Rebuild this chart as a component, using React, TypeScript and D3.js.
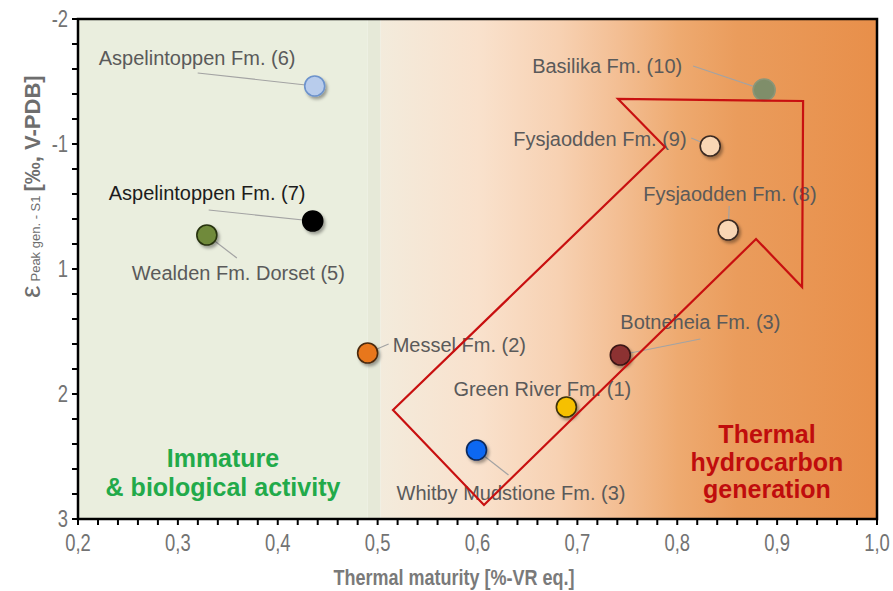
import React from 'react';
import * as d3 from 'd3';

// Formations: thermal maturity (%VR eq.) vs. epsilon peak gen. - S1 (‰)
const formations = [
  'Green River Fm. (1)',
  'Messel Fm. (2)',
  'Botneheia Fm. (3)',
  'Whitby Mudstione Fm. (3)',
  'Wealden Fm. Dorset (5)',
  'Aspelintoppen Fm. (6)',
  'Aspelintoppen Fm. (7)',
  'Fysjaodden Fm. (8)',
  'Fysjaodden Fm. (9)',
  'Basilika Fm. (10)',
];
const maturity = [0.689, 0.49, 0.743, 0.599, 0.329, 0.437, 0.435, 0.851, 0.833, 0.887];
const epsilon = [2.104, 1.672, 1.688, 2.448, 0.456, -1.464, 0.232, 0.376, -0.968, -1.432];

// Axis ticks
const xTicks = [0.2, 0.3, 0.4, 0.5, 0.6, 0.7, 0.8, 0.9, 1.0];
const yTicks = [-2, -1, 1, 2, 3];

// Trend arrow outline (maturity, epsilon)
const arrowX = [0.5154, 0.6065, 0.8789, 0.925, 0.926, 0.7407, 0.7877];
const arrowY = [2.128, 2.888, 0.52, 1.144, -1.344, -1.36, -0.952];

// Zone boundaries (maturity)
const immatureEnd = 0.49;
const transitionEnd = 0.503;

// Marker styling
const fills = ['#f6c000', '#e8771c', '#8c3331', '#1168f2', '#6f8a3a', '#b8ccec', '#050505', '#f9d6b4', '#f9d6b4', '#7f8e6b'];
const strokes = ['#3d3208', '#4a2a10', '#3a1616', '#0c2a5c', '#28330f', '#6d93cc', '#000000', '#3a2a22', '#3a2a22', '#8c9678'];
const labelColors = ['#5a5a5a', '#5a5a5a', '#5a5a5a', '#5a5a5a', '#5a5a5a', '#5a5a5a', '#1c1c1c', '#5a5a5a', '#5a5a5a', '#5a5a5a'];

// Label placement relative to the marker centre (px): text start / baseline, leader end
const labelDx = [-113, 25, 0, -80, -75, -216, -204, -85, -197, -232];
const labelDy = [-11, -1, -26, 50, 45, -21, -21, -29, 0, -17];
const leaderDx: (number | null)[] = [null, 21, 80, 32, 30, -117, -104, 1, -19, -71];
const leaderDy: (number | null)[] = [null, -9, -16, 25, 23, -13, -11, -24, -8, -24];

const W = 893;
const H = 591;
const left = 78;
const right = 877;
const top = 19;
const bottom = 519;

const labelFont = "'Liberation Sans', Arial, sans-serif";
const narrow = 0.8;

export default function App() {
  const x = d3.scaleLinear().domain([0.2, 1.0]).range([left, right]);
  // evenly spaced labelled stops on the vertical axis
  const y = d3
    .scaleLinear()
    .domain(yTicks)
    .range(yTicks.map((_, i) => top + (i * (bottom - top)) / (yTicks.length - 1)));
  const yMinor = d3.scaleLinear().domain([0, 20]).range([top, bottom]);
  const xMinor = d3.range(0.2, 1.0001, 0.02);

  const arrowPath =
    d3.line<number>()
      .x((i) => x(arrowX[i]))
      .y((i) => y(arrowY[i]))(d3.range(arrowX.length)) + 'Z';

  const gradStops: [number, string][] = [
    [0, '#f3ebdc'],
    [0.2, '#f9e1cc'],
    [0.36, '#f7d1b2'],
    [0.48, '#f3be93'],
    [0.6, '#eeaa70'],
    [0.72, '#ea9c5c'],
    [1, '#e88f4a'],
  ];

  return (
    <svg width={W} height={H} style={{ position: 'absolute', left: 0, top: 0, background: '#ffffff' }}>
      <defs>
        <linearGradient id="maturityGrad" x1="0" x2="1" y1="0" y2="0">
          {gradStops.map(([o, c]) => (
            <stop key={o} offset={o} stopColor={c} />
          ))}
        </linearGradient>
        <filter id="dropShadow" x="-50%" y="-50%" width="200%" height="200%">
          <feDropShadow dx="2" dy="2.5" stdDeviation="1.5" floodColor="#000" floodOpacity="0.35" />
        </filter>
        <filter id="soft" x="-50%" y="-50%" width="200%" height="200%">
          <feGaussianBlur stdDeviation="0.7" />
        </filter>
      </defs>

      {/* zones */}
      <rect x={x(0.2)} y={top} width={x(immatureEnd) - x(0.2)} height={bottom - top} fill="#eaeede" />
      <rect x={x(immatureEnd)} y={top} width={x(transitionEnd) - x(immatureEnd)} height={bottom - top} fill="#e6e9d8" />
      <rect x={x(transitionEnd)} y={top} width={x(1.0) - x(transitionEnd)} height={bottom - top} fill="url(#maturityGrad)" />

      {/* zone titles */}
      <g fontFamily={labelFont} fontWeight="bold" fontSize={25} textAnchor="middle">
        <text x={223} y={467} fill="#22aa4a">Immature</text>
        <text x={223} y={496} fill="#22aa4a">&amp; biological activity</text>
        <text x={767} y={443} fill="#c00d0d">Thermal</text>
        <text x={767} y={471} fill="#c00d0d">hydrocarbon</text>
        <text x={767} y={498} fill="#c00d0d">generation</text>
      </g>

      {/* leader lines */}
      <g stroke="#a3a3a3" strokeWidth={1.2}>
        {formations.map((f, i) =>
          leaderDx[i] === null ? null : (
            <line
              key={f + i}
              x1={x(maturity[i])}
              y1={y(epsilon[i])}
              x2={x(maturity[i]) + (leaderDx[i] as number)}
              y2={y(epsilon[i]) + (leaderDy[i] as number)}
            />
          )
        )}
      </g>

      {/* labels */}
      <g fontFamily={labelFont} fontSize={20}>
        {formations.map((f, i) => (
          <text key={f + i} x={x(maturity[i]) + labelDx[i]} y={y(epsilon[i]) + labelDy[i]} fill={labelColors[i]}>
            {f}
          </text>
        ))}
      </g>

      {/* markers */}
      {formations.map((f, i) => (
        <circle
          key={f + i}
          cx={x(maturity[i])}
          cy={y(epsilon[i])}
          r={i === 9 ? 11 : 10}
          fill={fills[i]}
          stroke={strokes[i]}
          strokeWidth={1.6}
          filter={i === 9 ? 'url(#soft)' : 'url(#dropShadow)'}
        />
      ))}

      {/* trend arrow */}
      <path d={arrowPath} fill="none" stroke="#c81010" strokeWidth={2.2} strokeLinejoin="miter" />

      {/* frame */}
      <rect x={left} y={top} width={right - left} height={bottom - top} fill="none" stroke="#000" strokeWidth={2.5} />

      {/* axis ticks */}
      <g stroke="#000" strokeWidth={2}>
        {d3.range(0, 21).map((k) => (
          <line key={k} x1={left - 6} x2={left} y1={yMinor(k)} y2={yMinor(k)} />
        ))}
        {xMinor.map((v) => (
          <line key={v} x1={x(v)} x2={x(v)} y1={bottom} y2={bottom + 6} />
        ))}
      </g>

      {/* tick labels (condensed) */}
      <g fontFamily={labelFont} fontSize={23} fill="#737373">
        {yTicks.map((t) => (
          <text key={t} transform={`translate(${left - 10},${y(t)}) scale(${narrow},1)`} dy="0.35em" textAnchor="end">
            {String(t)}
          </text>
        ))}
        {xTicks.map((t) => (
          <text key={t} transform={`translate(${x(t)},${bottom + 32}) scale(${narrow},1)`} textAnchor="middle">
            {d3.format('.1f')(t).replace('.', ',')}
          </text>
        ))}
      </g>

      {/* axis titles */}
      <text
        transform={`translate(454,585) scale(${narrow},1)`}
        textAnchor="middle"
        fontFamily={labelFont}
        fontWeight="bold"
        fontSize={22.5}
        fill="#7a7a7a"
      >
        Thermal maturity [%-VR eq.]
      </text>
      <text transform="translate(40,298) rotate(-90)" fontFamily={labelFont} fill="#6e6e6e">
        <tspan fontSize={28}>ε</tspan>
        <tspan fontSize={13} dx={4}>Peak gen. - S1</tspan>
        <tspan fontSize={22} dx={4} fontWeight="bold">[‰, V-PDB]</tspan>
      </text>
    </svg>
  );
}
